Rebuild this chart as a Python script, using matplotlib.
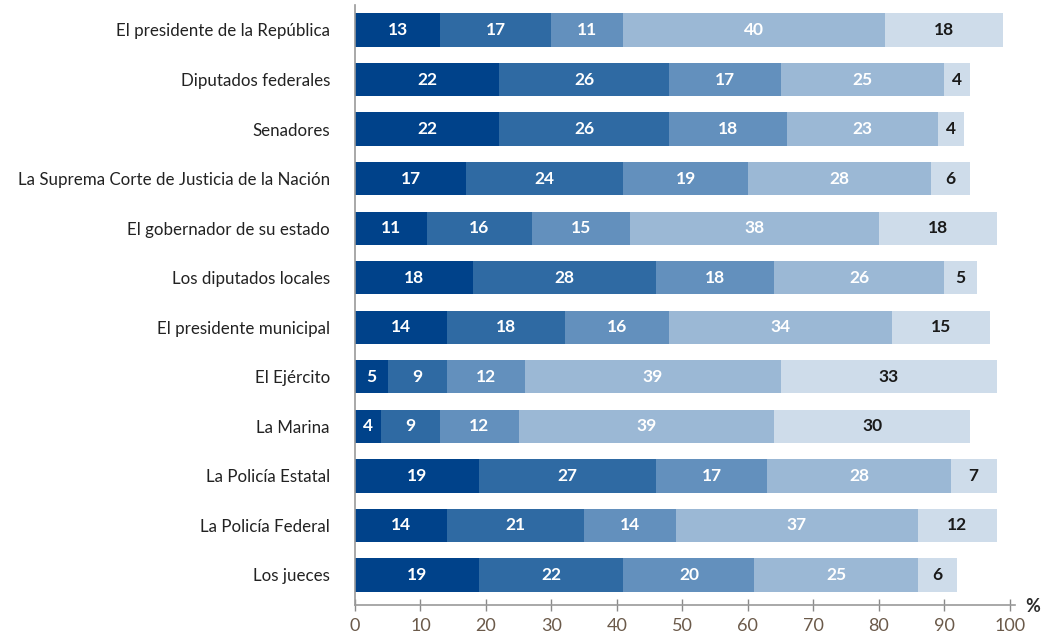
import numpy as np
import matplotlib.pyplot as plt

plt.rcParams['font.family'] = ['Lato', 'DejaVu Sans']

# categories (top to bottom) and the five stacked segments
categories = ["El presidente de la República", "Diputados federales", "Senadores",
              "La Suprema Corte de Justicia de la Nación", "El gobernador de su estado",
              "Los diputados locales", "El presidente municipal", "El Ejército",
              "La Marina", "La Policía Estatal", "La Policía Federal", "Los jueces"]
seg1 = [13, 22, 22, 17, 11, 18, 14, 5, 4, 19, 14, 19]
seg2 = [17, 26, 26, 24, 16, 28, 18, 9, 9, 27, 21, 22]
seg3 = [11, 17, 18, 19, 15, 18, 16, 12, 12, 17, 14, 20]
seg4 = [40, 25, 23, 28, 38, 26, 34, 39, 39, 28, 37, 25]
seg5 = [18, 4, 4, 6, 18, 5, 15, 33, 30, 7, 12, 6]
ticks = [0, 10, 20, 30, 40, 50, 60, 70, 80, 90, 100]

colors = ['#00428a', '#2f6aa3', '#6390bd', '#9bb8d5', '#cedcea']
text_colors = ['white', 'white', 'white', 'white', '#1a1a1a']

fig = plt.figure(figsize=(10.41, 6.37), dpi=100)
ax = fig.add_axes([0.341, 0.0502, 0.634, 0.942])

y = np.arange(len(categories))
left = np.zeros(len(categories))
for vals, col, tcol in zip([seg1, seg2, seg3, seg4, seg5], colors, text_colors):
    vals = np.array(vals, dtype=float)
    ax.barh(y, vals, left=left, height=0.67, color=col, edgecolor='none')
    for yi, l, v in zip(y, left, vals):
        ax.text(l + v / 2, yi, f"{int(v)}", ha='center', va='center',
                color=tcol, fontsize=12.5, fontweight='bold')
    left += vals

ax.set_xlim(0, 100.8)
ax.set_ylim(11.606, -0.505)
ax.set_yticks(y)
ax.set_yticklabels(categories, fontsize=12.2, color='#222222')
ax.tick_params(axis='y', length=0, pad=18)
ax.set_xticks(ticks)
ax.set_xticklabels([str(t) for t in ticks], fontsize=13, color='#6b5a4a')
ax.tick_params(axis='x', direction='inout', length=9, color='#8a8a8a', width=1, pad=5)

for s in ['top', 'right']:
    ax.spines[s].set_visible(False)
for s in ['left', 'bottom']:
    ax.spines[s].set_color('#9a9a9a')
    ax.spines[s].set_linewidth(1.2)

fig.text(1025 / 1041, 1 - 607 / 637, '%', fontsize=13, fontweight='bold',
         color='#2b2b2b', ha='left', va='center')

fig.savefig('out.png', dpi=100)
